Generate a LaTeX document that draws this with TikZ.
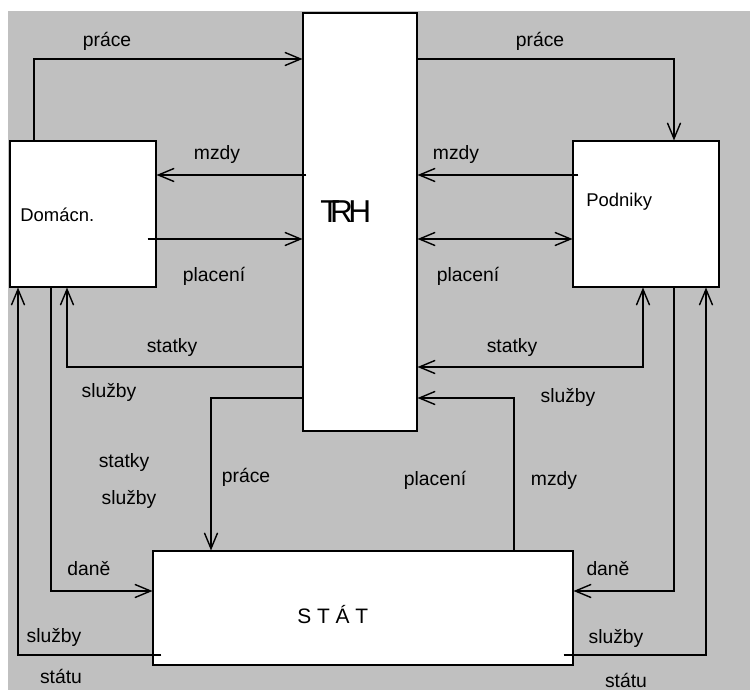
\documentclass[tikz,border=0pt]{standalone}
\usepackage{fontspec}
\setmainfont{Liberation Sans}
\usepackage{xcolor}
\usepackage{tikz}
\usetikzlibrary{arrows.meta,positioning}

\definecolor{panel}{HTML}{C0C0C0}

\begin{document}
\begin{tikzpicture}[
    block/.style={rectangle, draw, fill=white, line width=0.6pt, inner sep=0pt},
    lbl/.style={anchor=base, inner sep=0pt, font=\fontsize{11}{13}\selectfont},
    boxtxt/.style={anchor=base west, inner sep=0pt, font=\fontsize{10.5}{12}\selectfont},
    barb/.tip={Straight Barb[length=9pt,width=7.5pt,line width=0.8pt]},
    flow/.style={-barb, line width=0.6pt},
    flowb/.style={barb-barb, line width=0.6pt}
]
    \useasboundingbox (0,0) rectangle (15,-13.8);
    \fill[panel] (0.16,-0.22) rectangle (15,-13.8);

    % Blocks
    \node[block, minimum width=2.28cm, minimum height=8.36cm] (trh) at (7.2,-4.44) {};
    \node[block, minimum width=2.92cm, minimum height=2.92cm] (dom) at (1.66,-4.28) {};
    \node[block, minimum width=2.92cm, minimum height=2.92cm] (pod) at (12.92,-4.28) {};
    \node[block, minimum width=8.40cm, minimum height=2.28cm] (stat) at (7.26,-12.16) {};

    \node[boxtxt, font=\fontsize{18}{20}\selectfont] (trhtxt) at (6.40,-4.46) {T\kern-5.5pt R\kern-2.5pt H};
    \node[boxtxt] (domtxt) at (0.40,-4.44) {Domácn.};
    \node[boxtxt] (podtxt) at (11.72,-4.14) {Podniky};
    \node[boxtxt, font=\fontsize{11.9}{14}\selectfont] (stattxt) at (5.94,-12.46) {S T Á T};

    % Bends and levels
    \coordinate (k1) at (0.68,-1.18);
    \coordinate (k2) at (13.48,-1.18);
    \coordinate (k3) at (1.34,-7.34);
    \coordinate (k4) at (12.86,-7.34);
    \coordinate (k5) at (4.22,-7.96);
    \coordinate (k6) at (10.28,-7.96);
    \coordinate (k7) at (1.02,-11.82);
    \coordinate (k8) at (13.48,-11.82);
    \coordinate (k9) at (0.36,-13.10);
    \coordinate (k10) at (14.12,-13.10);
    \coordinate (lm) at (0,-3.50);
    \coordinate (lp) at (0,-4.78);

    % Flows
    \draw[flow] (dom.north -| k1) -- (k1) -- (trh.west |- k1);
    \draw[flow] (trh.east |- k2) -- (k2) -- (pod.north -| k2);
    \draw[flow, shorten <=-0.08cm] (trh.west |- lm) -- (dom.east |- lm);
    \draw[flow, shorten <=-0.18cm] (dom.east |- lp) -- (trh.west |- lp);
    \draw[flow, shorten <=-0.12cm] (pod.west |- lm) -- (trh.east |- lm);
    \draw[flowb] (trh.east |- lp) -- (pod.west |- lp);
    \draw[flow] (trh.west |- k3) -- (k3) -- (dom.south -| k3);
    \draw[flowb] (trh.east |- k4) -- (k4) -- (pod.south -| k4);
    \draw[flow] (trh.west |- k5) -- (k5) -- (stat.north -| k5);
    \draw[flow] (stat.north -| k6) -- (k6) -- (trh.east |- k6);
    \draw[flow] (dom.south -| k7) -- (k7) -- (stat.west |- k7);
    \draw[flow] (pod.south -| k8) -- (k8) -- (stat.east |- k8);
    \draw[flow, shorten <=-0.18cm] (stat.west |- k9) -- (k9) -- (dom.south -| k9);
    \draw[flow, shorten <=-0.2cm] (stat.east |- k10) -- (k10) -- (pod.south -| k10);

    % Labels
    \node[lbl] (l1) at (2.14,-0.94) {práce};
    \node[lbl] (l2) at (10.80,-0.94) {práce};
    \node[lbl] (l3) at (4.34,-3.20) {mzdy};
    \node[lbl] (l4) at (4.28,-5.64) {placení};
    \node[lbl] (l5) at (9.12,-3.20) {mzdy};
    \node[lbl] (l6) at (9.36,-5.64) {placení};
    \node[lbl] (l7) at (3.44,-7.06) {statky};
    \node[lbl] (l8) at (2.18,-7.94) {služby};
    \node[lbl] (l9) at (2.48,-9.34) {statky};
    \node[lbl] (l10) at (2.58,-10.08) {služby};
    \node[lbl] (l11) at (4.92,-9.64) {práce};
    \node[lbl] (l12) at (1.78,-11.50) {daně};
    \node[lbl] (l13) at (1.08,-12.84) {služby};
    \node[lbl] (l14) at (1.22,-13.66) {státu};
    \node[lbl] (l15) at (10.24,-7.06) {statky};
    \node[lbl] (l16) at (11.36,-8.06) {služby};
    \node[lbl] (l17) at (8.70,-9.70) {placení};
    \node[lbl] (l18) at (11.08,-9.70) {mzdy};
    \node[lbl] (l19) at (12.16,-11.50) {daně};
    \node[lbl] (l20) at (12.32,-12.86) {služby};
    \node[lbl] (l21) at (12.52,-13.74) {státu};
\end{tikzpicture}
\end{document}
